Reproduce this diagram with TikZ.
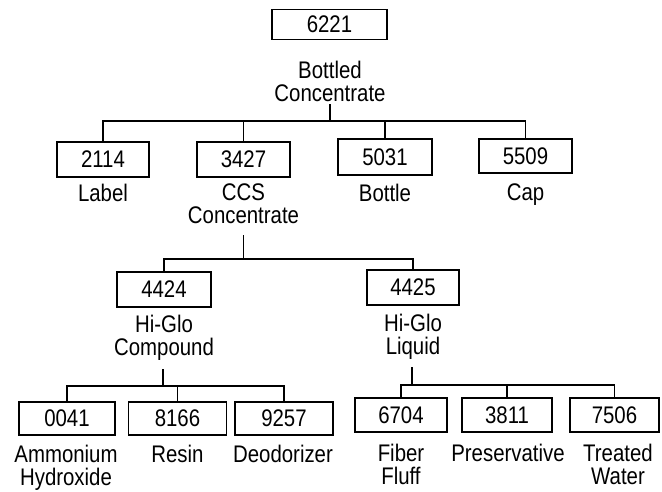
\documentclass[tikz,border=0pt]{standalone}
\usepackage{fontspec}
\setmainfont{Liberation Sans}[FakeStretch=0.85]
\begin{document}
\begin{tikzpicture}[x=1pt,y=-1pt,
  partbox/.style={draw,line width=1.6pt,inner sep=0pt,minimum width=93pt,minimum height=35pt,
    font=\fontsize{24}{23}\selectfont},
  partname/.style={anchor=north,inner sep=0pt,align=center,font=\fontsize{24}{23}\selectfont},
  tree/.style={line width=1.3pt}]
\useasboundingbox (0,0) rectangle (662,491);
% level 0
\node[partbox,minimum width=115pt,minimum height=30pt] (b6221) at (329.5,24.5) {6221};
\node[partname] (l6221) at (330,61) {Bottled\\Concentrate};
% level 1
\node[partbox,minimum width=92pt] (b2114) at (103,159.5) {2114};
\node[partbox] (b3427) at (243.5,159.5) {3427};
\node[partbox,minimum width=94pt,minimum height=36pt] (b5031) at (385,157) {5031};
\node[partbox,minimum height=34pt] (b5509) at (525.5,156) {5509};
\node[partname] (l2114) at (103,184) {Label};
\node[partname] (l3427) at (243.5,184) {CCS\\Concentrate};
\node[partname] (l5031) at (385,184) {Bottle};
\node[partname] (l5509) at (525.5,184) {Cap};
% level 2
\node[partbox,minimum width=94pt] (b4424) at (164,289.5) {4424};
\node[partbox,minimum width=92pt] (b4425) at (413,287.5) {4425};
\node[partname] (l4424) at (164,315) {Hi-Glo\\Compound};
\node[partname] (l4425) at (413,314) {Hi-Glo\\Liquid};
% level 3
\node[partbox,minimum width=96pt,minimum height=33pt] (b0041) at (67,418.5) {0041};
\node[partbox,minimum width=98pt,minimum height=33pt] (b8166) at (177.5,418.5) {8166};
\node[partbox,minimum width=98pt,minimum height=33pt] (b9257) at (284,418.5) {9257};
\node[partbox,minimum width=92pt,minimum height=34pt] (b6704) at (401,415) {6704};
\node[partbox,minimum width=90pt,minimum height=34pt] (b3811) at (507,415) {3811};
\node[partbox,minimum width=89pt,minimum height=34pt] (b7506) at (614.5,415) {7506};
\node[partname] (l0041) at (66,445) {Ammonium\\Hydroxide};
\node[partname] (l8166) at (177.5,445) {Resin};
\node[partname] (l9257) at (283,445) {Deodorizer};
\node[partname] (l6704) at (401,444) {Fiber\\Fluff};
\node[partname] (l3811) at (508,444) {Preservative};
\node[partname] (l7506) at (618,444) {Treated\\Water};
% connectors
\coordinate (s1) at (330,104); \coordinate (j1) at (330,121);
\coordinate (s2) at (243.5,235); \coordinate (j2) at (243.5,259);
\coordinate (s3) at (163,369); \coordinate (j3) at (163,386);
\coordinate (s4) at (412,367); \coordinate (j4) at (412,385);
\draw[tree] (s1) -- (j1);
\foreach \c in {b2114,b3427,b5031,b5509} \draw[tree] (j1) -| (\c.north);
\draw[tree] (s2) -- (j2);
\foreach \c in {b4424,b4425} \draw[tree] (j2) -| (\c.north);
\draw[tree] (s3) -- (j3);
\foreach \c in {b0041,b8166,b9257} \draw[tree] (j3) -| (\c.north);
\draw[tree] (s4) -- (j4);
\foreach \c in {b6704,b3811,b7506} \draw[tree] (j4) -| (\c.north);
\end{tikzpicture}
\end{document}
